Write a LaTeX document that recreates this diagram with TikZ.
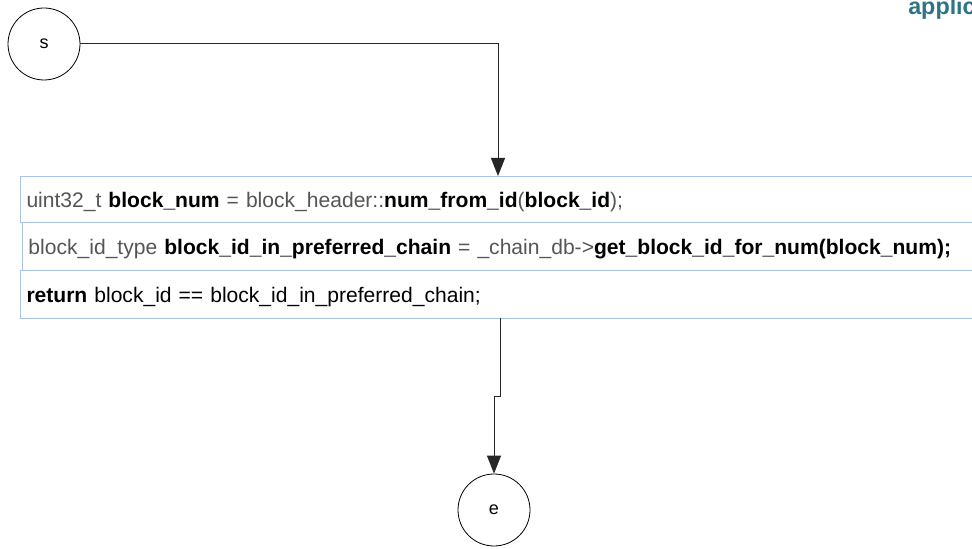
\documentclass[tikz,border=0pt]{standalone}
\usepackage{fontspec}
\setmainfont{Liberation Sans}
\usetikzlibrary{arrows.meta}
\definecolor{boxline}{HTML}{A9C4EB}
\definecolor{codegray}{HTML}{555555}
\definecolor{headteal}{HTML}{2F7484}
\begin{document}
\begin{tikzpicture}[x=0.75pt,y=-0.75pt,
  term/.style={circle,draw=black,line width=0.6pt,minimum size=54pt,inner sep=0pt,
    font=\fontsize{13.5}{15}\selectfont},
  codebox/.style={rectangle,draw=boxline,line width=0.75pt,anchor=north west,
    text width=742pt,align=left,inner xsep=4.5pt,inner ysep=0pt,minimum height=34.5pt,
    text height=11.5pt,text depth=0pt,
    text=codegray,font=\fontsize{15.8}{18}\selectfont},
  conn/.style={draw=black!85,line width=0.75pt,-{Triangle[length=13.5pt,width=10.5pt]}}]
\useasboundingbox (0,0) rectangle (972,549);
\clip (0,0) rectangle (972,549);
\fill[white] (0,0) rectangle (972,549);

% header fragment
\node[anchor=base west,inner sep=0pt,text=headteal,font=\fontsize{17.5}{20}\selectfont\bfseries] (hdr) at (908,15) {applic};

% terminals
\node[term] (s) at (44,44) {s};
\node[term] (e) at (494,510) {e};

% code statements
\node[codebox] (b1) at (20,176) {uint32\_t \textcolor{black}{\textbf{block\_num}} = block\_header::\textcolor{black}{\textbf{num\_from\_id}}(\textcolor{black}{\textbf{block\_id}});};
\node[codebox,minimum height=36pt] (b2) at (22,222) {block\_id\_type \textcolor{black}{\textbf{block\_id\_in\_preferred\_chain}} = \_chain\_db->\textcolor{black}{\textbf{get\_block\_id\_for\_num(block\_num);}}};
\node[codebox,minimum height=36pt,text=black] (b3) at (20,270) {\textbf{return} block\_id == block\_id\_in\_preferred\_chain;};

% connectors
\coordinate (in1) at (498,176);
\coordinate (out3) at (500,318);
\coordinate (jog) at (500,396);
\draw[conn] (s.east) -| (in1);
\draw[conn] (out3) -- (jog) -| (e.north);
\end{tikzpicture}
\end{document}
